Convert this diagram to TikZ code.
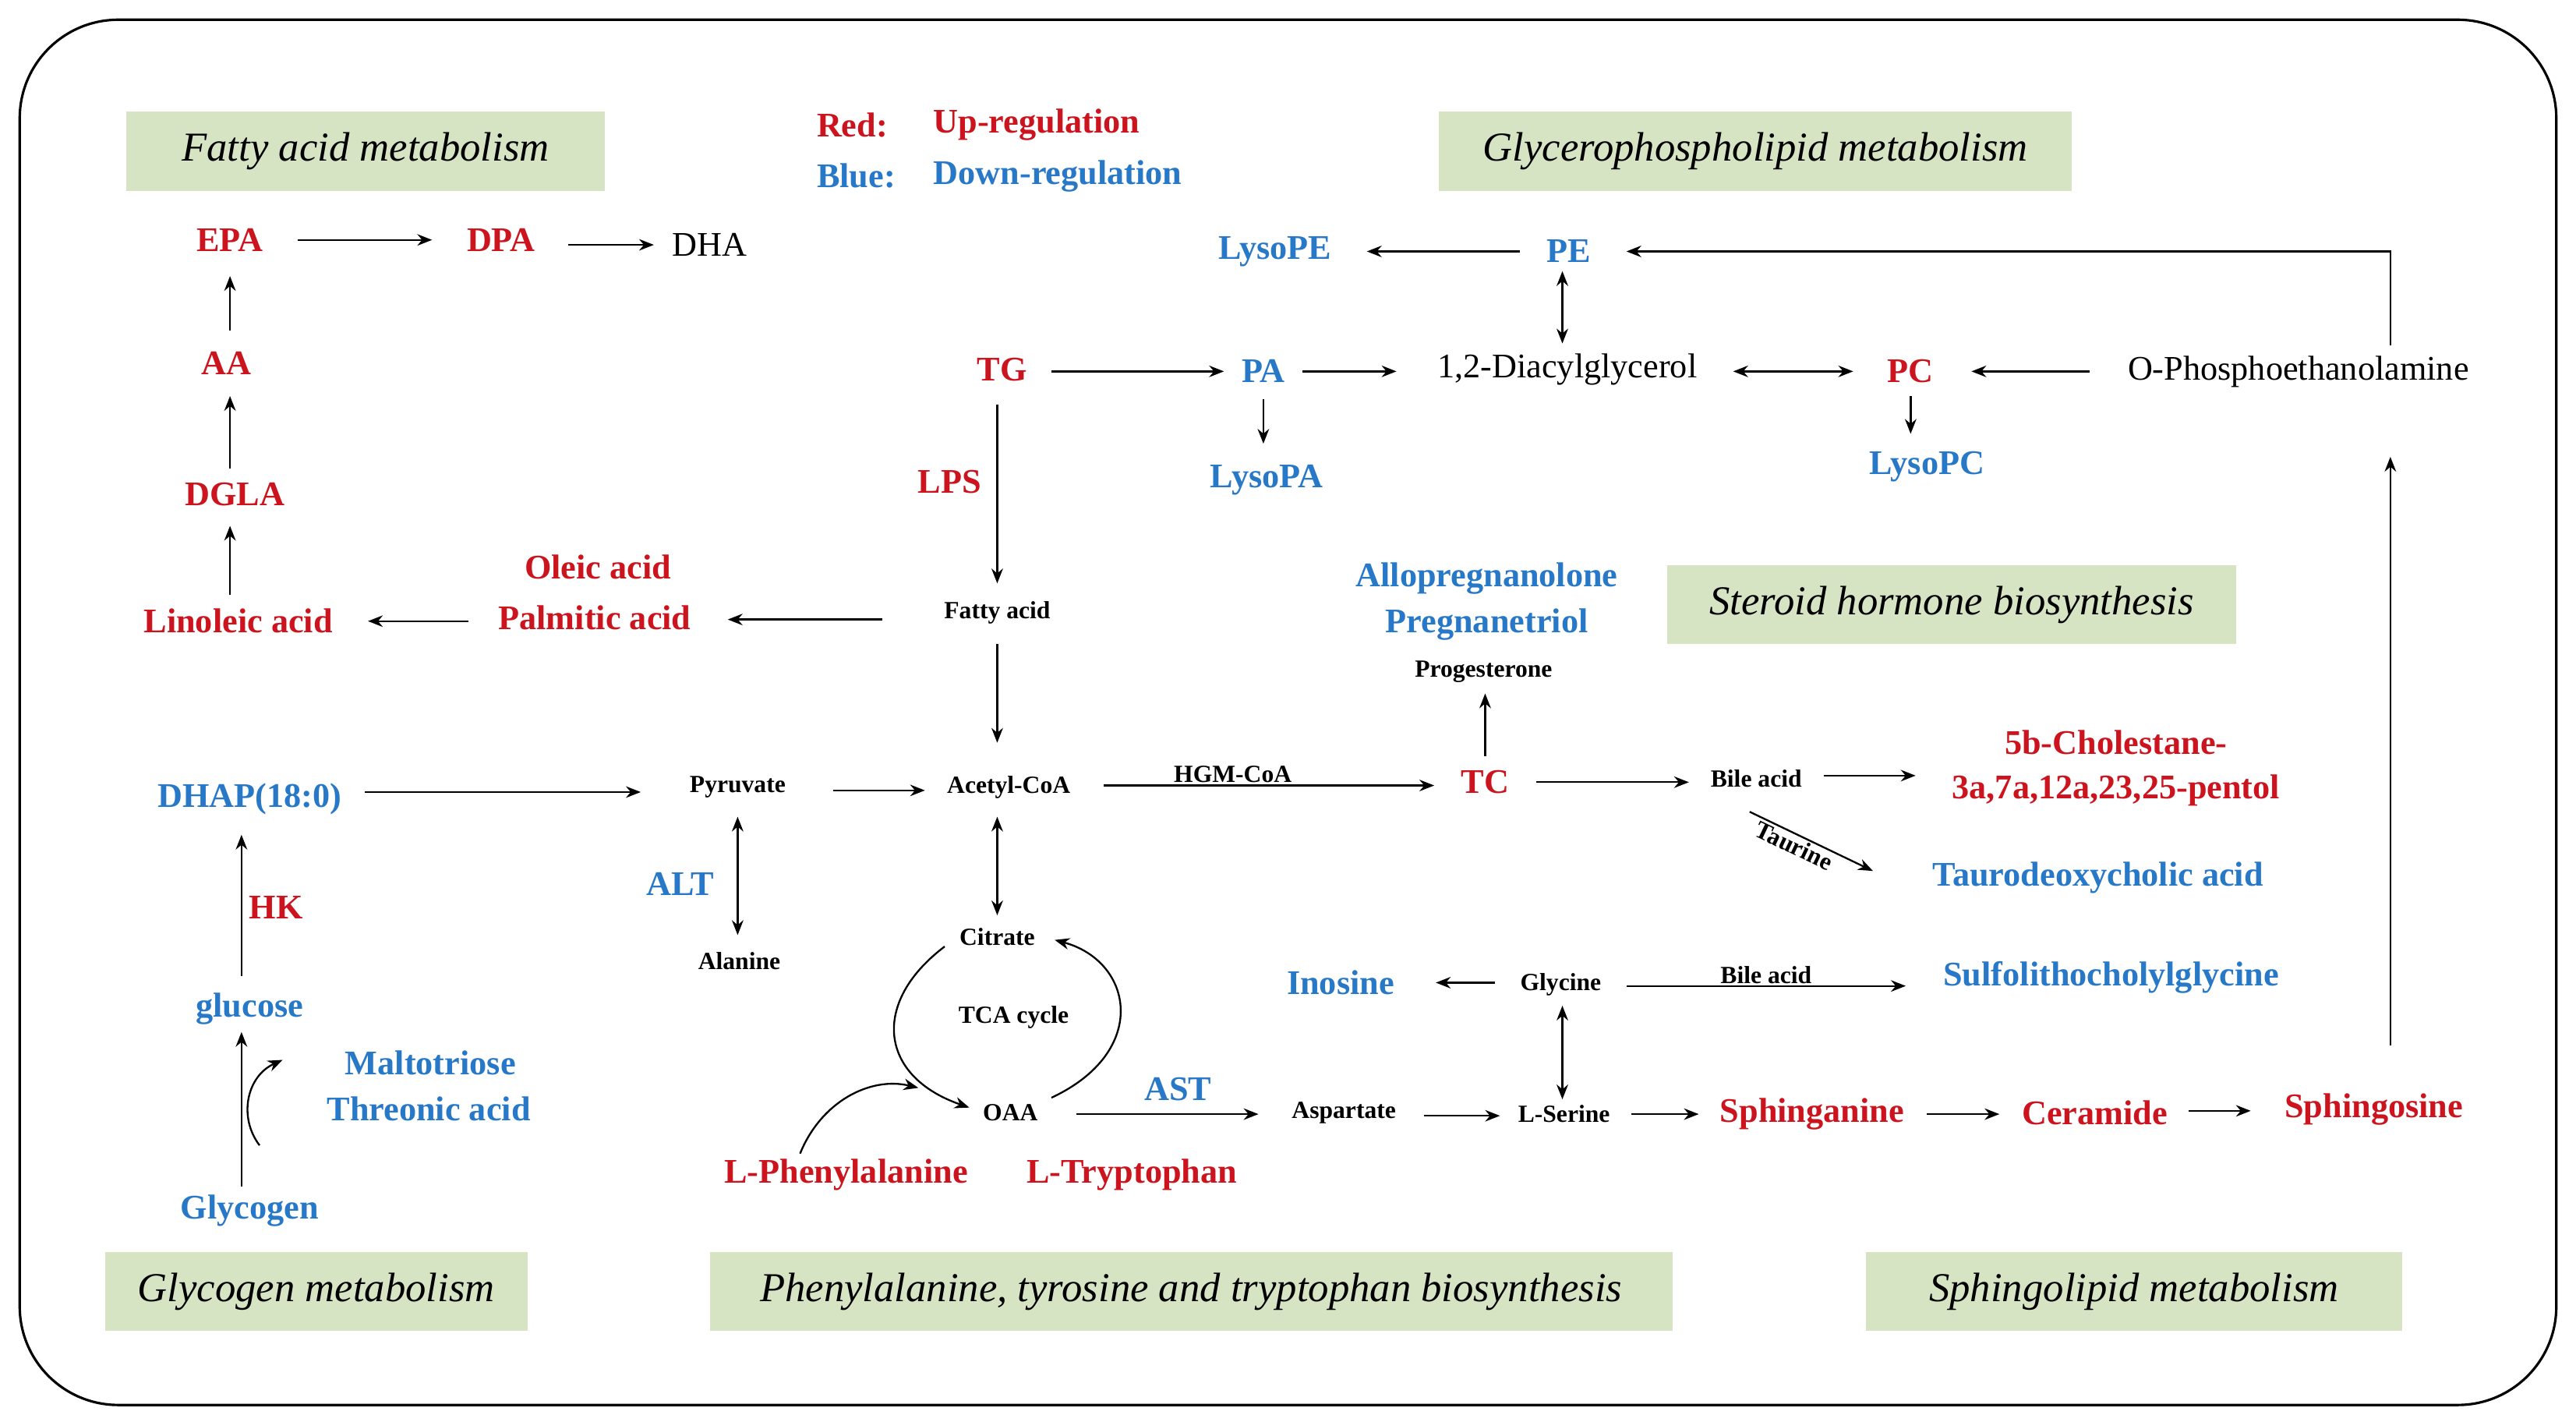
\documentclass[tikz,border=0pt]{standalone}
\usepackage{fontspec}
\setmainfont{Liberation Serif}
\usetikzlibrary{arrows.meta}
\definecolor{rd}{RGB}{204,20,30}
\definecolor{bl}{RGB}{40,120,200}
\definecolor{gb}{RGB}{214,228,196}
\begin{document}
\begin{tikzpicture}[x=1pt,y=-1pt,
 R/.style={text=rd,font=\fontsize{21}{24}\selectfont\bfseries,inner sep=1pt},
 B/.style={text=bl,font=\fontsize{21}{24}\selectfont\bfseries,inner sep=1pt},
 K/.style={font=\fontsize{21}{24}\selectfont,inner sep=1pt},
 S/.style={font=\fontsize{15}{18}\selectfont\bfseries,inner sep=1pt},
 box/.style={fill=gb,font=\fontsize{25}{29}\selectfont\itshape,inner sep=0pt,anchor=center},
 a/.style={-{Stealth[length=9pt,width=7pt]},line width=1.1pt},
 aa/.style={{Stealth[length=9pt,width=7pt]}-{Stealth[length=9pt,width=7pt]},line width=1.1pt}]
\useasboundingbox (0,0) rectangle (1568,865);
\draw[line width=1.5pt,rounded corners=60pt] (12,12) rectangle (1556,855);
% boxes
\node[box,minimum width=291pt,minimum height=48pt] (b1) at (222.5,92) {Fatty acid metabolism};
\node[box,minimum width=385pt,minimum height=48pt] (b2) at (1068.5,92) {Glycerophospholipid metabolism};
\node[box,minimum width=346pt,minimum height=48pt] (b3) at (1188,368) {Steroid hormone biosynthesis};
\node[box,minimum width=257pt,minimum height=48pt] (b4) at (192.5,786) {Glycogen metabolism};
\node[box,minimum width=586pt,minimum height=48pt] (b5) at (725,786) {Phenylalanine, tyrosine and tryptophan biosynthesis};
\node[box,minimum width=326pt,minimum height=48pt] (b6) at (1299,786) {Sphingolipid metabolism};
% legend
\node[R,anchor=west] (l1) at (496,76) {Red:};
\node[R,anchor=west] (l2) at (567,76) {Up-regulation};
\node[B,anchor=west] (l3) at (496,107) {Blue:};
\node[B,anchor=west] (l4) at (567,107) {Down-regulation};
% nodes
\node[R] (EPA) at (140,146) {EPA};
\node[R] (DPA) at (305,146) {DPA};
\node[K] (DHA) at (432,149) {DHA};
\node[R] (AA) at (138,221) {AA};
\node[R] (DGLA) at (143,301) {DGLA};
\node[R] (LA) at (145,378) {Linoleic acid};
\node[R] (OA) at (364,345) {Oleic acid};
\node[R] (PAL) at (362,376) {Palmitic acid};
\node[S] (FA) at (607,373) {Fatty acid};
\node[R] (TG) at (610,225) {TG};
\node[R] (LPS) at (578,293) {LPS};
\node[B] (PA) at (769,226) {PA};
\node[B] (LPA) at (771,292) {LysoPA};
\node[K] (DAG) at (954,225) {1,2-Diacylglycerol};
\node[B] (PE) at (955,153) {PE};
\node[B] (LPE) at (776,153) {LysoPE};
\node[R] (PC) at (1163,226) {PC};
\node[B] (LPC) at (1173,284) {LysoPC};
\node[K] (OPE) at (1399,226) {O-Phosphoethanolamine};
\node[B] (ALLO) at (905,352) {Allopregnanolone};
\node[B] (PREG) at (905,380) {Pregnanetriol};
\node[S] (PROG) at (903,409) {Progesterone};
\node[R] (TC) at (904,476) {TC};
\node[S] (BA) at (1069,474) {Bile acid};
\node[R] (CH1) at (1288,452) {5b-Cholestane-};
\node[R] (CH2) at (1288,481) {3a,7a,12a,23,25-pentol};
\node[B] (TDC) at (1277,534) {Taurodeoxycholic acid};
\node[B] (DHAP) at (152,486) {DHAP(18:0)};
\node[S] (PYR) at (449,479) {Pyruvate};
\node[S] (ACO) at (614,479) {Acetyl-CoA};
\node[B] (ALT) at (414,538) {ALT};
\node[S] (ALA) at (450,585) {Alanine};
\node[S] (CIT) at (607,570) {Citrate};
\node[S] (TCA) at (617,619) {TCA cycle};
\node[S] (OAA) at (615,677) {OAA};
\node[B] (AST) at (717,663) {AST};
\node[S] (ASP) at (818,677) {Aspartate};
\node[S] (SER) at (952,678) {L-Serine};
\node[S] (GLY) at (950,599) {Glycine};
\node[B] (INO) at (816,598) {Inosine};
\node[B] (SLG) at (1285,595) {Sulfolithocholylglycine};
\node[R] (SPN) at (1103,678) {Sphinganine};
\node[R] (CER) at (1275,677) {Ceramide};
\node[R] (SPO) at (1445,675) {Sphingosine};
\node[R] (PHE) at (515,715) {L-Phenylalanine};
\node[R] (TRP) at (689,715) {L-Tryptophan};
\node[R] (HK) at (168,552) {HK};
\node[B] (GLU) at (152,614) {glucose};
\node[B] (MAL) at (262,647) {Maltotriose};
\node[B] (THR) at (261,675) {Threonic acid};
\node[B] (GLYC) at (152,737) {Glycogen};
% coordinates
\coordinate (c1) at (181,146); \coordinate (c2) at (263,146);
\coordinate (c3) at (346,149); \coordinate (c4) at (398,149);
% arrows
\draw[a] (c1) -- (c2);
\draw[a] (c3) -- (c4);
\draw[a] (140,201) -- (140,168);
\draw[a] (140,285) -- (140,241);
\draw[a] (140,362) -- (140,320);
\draw[a] (285,378) -- (224,378);
\draw[a] (537,377) -- (443,377);
\draw[a] (607,246) -- (607,355);
\draw[a] (607,392) -- (607,452);
\draw[a] (640,226) -- (745,226);
\draw[a] (793,226) -- (850,226);
\draw[a] (769,243) -- (769,270);
\draw[aa] (1055,226) -- (1128,226);
\draw[aa] (951,165) -- (951,209);
\draw[a] (925,153) -- (832,153);
\draw[a] (1163,241) -- (1163,264);
\draw[a] (1272,226) -- (1200,226);
\draw[a] (1455,210) -- (1455,153) -- (990,153);
\draw[a] (1455,636) -- (1455,278);
\draw[a] (222,482) -- (390,482);
\draw[a] (507,481) -- (563,481);
\draw[a] (672,478) -- node[S,above,pos=0.39] (HGM) {HGM-CoA} (873,478);
\draw[aa] (449,497) -- (449,569);
\draw[aa] (607,497) -- (607,557);
\draw[a] (904,460) -- (904,422);
\draw[a] (935,476) -- (1028,476);
\draw[a] (1110,472) -- (1166,472);
\draw[a] (1065,494) -- node[S,below,sloped,pos=0.4] (TAU) {Taurine} (1140,530);
\draw[a] (910,598) -- (874,598);
\draw[a] (990,600) -- node[S,above] (BA2) {Bile acid} (1160,600);
\draw[aa] (951,612) -- (951,669);
\draw[a] (655,678) -- (766,678);
\draw[a] (867,679) -- (913,679);
\draw[a] (993,678) -- (1034,678);
\draw[a] (1173,678) -- (1217,678);
\draw[a] (1332,676) -- (1370,676);
\draw[a] (575,576) .. controls (530,610) and (535,655) .. (590,674);
\draw[a] (640,668) .. controls (700,640) and (690,585) .. (642,572);
\draw[a] (487,702) .. controls (500,670) and (530,655) .. (559,662);
\draw[a] (147,594) -- (147,508);
\draw[a] (147,722) -- (147,628);
\draw[a] (158,697) .. controls (145,680) and (150,655) .. (172,645);
\end{tikzpicture}
\end{document}
